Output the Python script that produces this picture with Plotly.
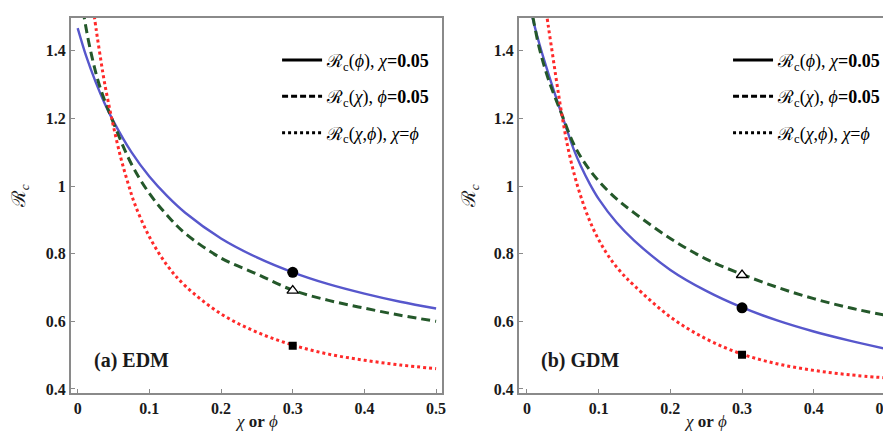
import plotly.graph_objects as go

# ---------------- data ----------------
# (a) EDM
edm_phi_x = [0.0, 0.0125, 0.025, 0.0375, 0.05, 0.075, 0.1, 0.125, 0.15, 0.2, 0.25, 0.3, 0.35, 0.4, 0.45, 0.5]
edm_phi_r = [1.467, 1.38, 1.308, 1.245, 1.191, 1.10, 1.028, 0.97, 0.921, 0.845, 0.789, 0.745, 0.71, 0.682, 0.658, 0.638]

edm_chi_x = [0.005, 0.009, 0.018, 0.03, 0.048, 0.075, 0.1, 0.125, 0.15, 0.2, 0.25, 0.3, 0.35, 0.4, 0.45, 0.5]
edm_chi_r = [1.56, 1.50, 1.40, 1.30, 1.197, 1.065, 0.978, 0.913, 0.86, 0.787, 0.740, 0.692, 0.662, 0.639, 0.618, 0.600]

edm_both_x = [0.022, 0.026, 0.031, 0.0375, 0.048, 0.06, 0.07, 0.08, 0.1, 0.125, 0.15, 0.2, 0.25, 0.3, 0.35, 0.4, 0.45, 0.5]
edm_both_r = [1.52, 1.46, 1.39, 1.305, 1.195, 1.085, 1.01, 0.945, 0.85, 0.765, 0.705, 0.622, 0.568, 0.530, 0.503, 0.485, 0.471, 0.46]

# (b) GDM
gdm_phi_x = [0.0074, 0.018, 0.031, 0.048, 0.065, 0.075, 0.088, 0.1, 0.125, 0.15, 0.2, 0.25, 0.3, 0.35, 0.4, 0.45, 0.5]
gdm_phi_r = [1.50, 1.415, 1.325, 1.215, 1.11, 1.06, 1.005, 0.962, 0.892, 0.838, 0.752, 0.69, 0.641, 0.602, 0.57, 0.543, 0.519]

gdm_chi_x = [0.0083, 0.017, 0.03, 0.048, 0.065, 0.08, 0.1, 0.125, 0.15, 0.2, 0.25, 0.3, 0.35, 0.4, 0.45, 0.5]
gdm_chi_r = [1.50, 1.41, 1.315, 1.215, 1.125, 1.07, 1.015, 0.962, 0.92, 0.845, 0.784, 0.739, 0.70, 0.667, 0.64, 0.618]

gdm_both_x = [0.026, 0.030, 0.036, 0.042, 0.048, 0.058, 0.072, 0.09, 0.11, 0.13, 0.15, 0.2, 0.25, 0.3, 0.35, 0.4, 0.45, 0.5]
gdm_both_r = [1.53, 1.47, 1.385, 1.30, 1.22, 1.105, 0.99, 0.885, 0.805, 0.748, 0.705, 0.613, 0.548, 0.503, 0.474, 0.455, 0.442, 0.433]

# markers at chi (or phi) = 0.3
mark_x = [0.3]
edm_mark = {"circle": 0.745, "triangle": 0.691, "square": 0.528}
gdm_mark = {"circle": 0.640, "triangle": 0.737, "square": 0.501}

x_ticks = [0, 0.1, 0.2, 0.3, 0.4, 0.5]
x_ticklabels = ["<b>0</b>", "<b>0.1</b>", "<b>0.2</b>", "<b>0.3</b>", "<b>0.4</b>", "<b>0.5</b>"]
y_ticks = [0.4, 0.6, 0.8, 1.0, 1.2, 1.4]
y_ticklabels = ["<b>0.4</b>", "<b>0.6</b>", "<b>0.8</b>", "<b>1</b>", "<b>1.2</b>", "<b>1.4</b>"]

legend_labels = [
    "ℛ<sub>c</sub>(<i>ϕ</i>), <i>χ</i><b>=0.05</b>",
    "ℛ<sub>c</sub>(<i>χ</i>), <i>ϕ</i><b>=0.05</b>",
    "ℛ<sub>c</sub>(<i>χ</i>,<i>ϕ</i>), <i>χ</i>=<i>ϕ</i>",
]

# ---------------- styling ----------------
W, H = 891, 431
SERIF = "Liberation Serif, Times New Roman, DejaVu Serif, serif"
BLUE = "#5757cc"
GREEN = "#24582a"
RED = "#ff2a2a"
AXC = "#8a8a8a"

fig = go.Figure()


def add_panel(xa, ya, legend, phi, chi, both, marks):
    fig.add_trace(go.Scatter(x=phi[0], y=phi[1], mode="lines", xaxis=xa, yaxis=ya,
                             line=dict(color=BLUE, width=2.4, shape="spline", smoothing=1.0),
                             showlegend=False, hoverinfo="skip"))
    fig.add_trace(go.Scatter(x=chi[0], y=chi[1], mode="lines", xaxis=xa, yaxis=ya,
                             line=dict(color=GREEN, width=3, dash="9px,5px", shape="spline", smoothing=1.0),
                             showlegend=False, hoverinfo="skip"))
    fig.add_trace(go.Scatter(x=both[0], y=both[1], mode="lines", xaxis=xa, yaxis=ya,
                             line=dict(color=RED, width=3, dash="3px,3px", shape="spline", smoothing=1.0),
                             showlegend=False, hoverinfo="skip"))
    fig.add_trace(go.Scatter(x=mark_x, y=[marks["circle"]], mode="markers", xaxis=xa, yaxis=ya,
                             marker=dict(symbol="circle", size=11, color="black"), showlegend=False))
    fig.add_trace(go.Scatter(x=mark_x, y=[marks["triangle"]], mode="markers", xaxis=xa, yaxis=ya,
                             marker=dict(symbol="triangle-up", size=10, color="white",
                                         line=dict(color="black", width=1.3)), showlegend=False))
    fig.add_trace(go.Scatter(x=mark_x, y=[marks["square"]], mode="markers", xaxis=xa, yaxis=ya,
                             marker=dict(symbol="square", size=8, color="black"), showlegend=False))
    dashes = ["solid", "6px,3px", "3px,3px"]
    for i, (lab, d) in enumerate(zip(legend_labels, dashes)):
        fig.add_trace(go.Scatter(x=[None], y=[None], mode="lines", xaxis=xa, yaxis=ya,
                                 line=dict(color="black", width=3, dash=d),
                                 name=lab, legend=legend, legendgroup=f"{legend}{i}"))


add_panel("x", "y", "legend", (edm_phi_x, edm_phi_r), (edm_chi_x, edm_chi_r),
          (edm_both_x, edm_both_r), edm_mark)
add_panel("x2", "y2", "legend2", (gdm_phi_x, gdm_phi_r), (gdm_chi_x, gdm_chi_r),
          (gdm_both_x, gdm_both_r), gdm_mark)

tickfont = dict(family=SERIF, size=16, color="#1a1a1a")
axis_common = dict(showline=True, linecolor=AXC, linewidth=1.5, mirror=True,
                   ticks="inside", ticklen=5, tickwidth=1, tickcolor=AXC,
                   showgrid=False, zeroline=False, tickfont=tickfont)

ydom = [1 - 389 / H, 1 - 10 / H]
legend_common = dict(xanchor="right", y=1 - 34 / H, yanchor="top",
                     bgcolor="rgba(0,0,0,0)", itemwidth=40, tracegroupgap=10,
                     font=dict(family=SERIF, size=18, color="black"))
fig.update_layout(
    width=W, height=H, margin=dict(l=0, r=0, t=0, b=0),
    paper_bgcolor="white", plot_bgcolor="white",
    xaxis=dict(domain=[63 / W, 436 / W], range=[-0.0097, 0.5083], anchor="y",
               tickvals=x_ticks, ticktext=x_ticklabels, **axis_common),
    yaxis=dict(domain=ydom, range=[0.387, 1.497], anchor="x",
               tickvals=y_ticks, ticktext=y_ticklabels, **axis_common),
    xaxis2=dict(domain=[513 / W, 887 / W], range=[-0.0115, 0.5078], anchor="y2",
                tickvals=x_ticks, ticktext=x_ticklabels, **axis_common),
    yaxis2=dict(domain=ydom, range=[0.387, 1.497], anchor="x2",
                tickvals=y_ticks, ticktext=y_ticklabels, **axis_common),
    legend=dict(x=429 / W, **legend_common),
    legend2=dict(x=882 / W, **legend_common),
    showlegend=True,
)

ann_font = dict(family=SERIF, size=20, color="#1a1a1a")
for xc, lab in [(124, "<b>(a) EDM</b>"), (575, "<b>(b) GDM</b>")]:
    fig.add_annotation(x=xc / W, y=1 - 356 / H, xref="paper", yref="paper", text=lab,
                       showarrow=False, font=ann_font, xanchor="center", yanchor="middle")
for xc in [250, 701]:
    fig.add_annotation(x=xc / W, y=1 - 417 / H, xref="paper", yref="paper",
                       text="<i>χ</i> <b>or</b> <i>ϕ</i>", showarrow=False,
                       font=dict(family=SERIF, size=17, color="#1a1a1a"),
                       xanchor="center", yanchor="middle")
for xc in [12, 464]:
    fig.add_annotation(x=xc / W, y=1 - 190 / H, xref="paper", yref="paper",
                       text="ℛ<sub><i>c</i></sub>", textangle=-90, showarrow=False,
                       font=dict(family=SERIF, size=19, color="#1a1a1a"),
                       xanchor="center", yanchor="middle")

fig.write_html("out.html")
